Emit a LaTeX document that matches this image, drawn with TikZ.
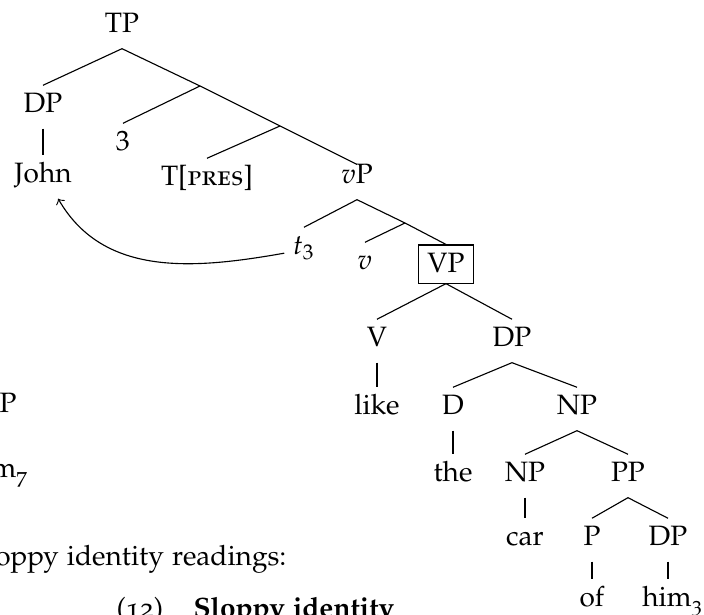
\documentclass[tikz,border=0pt]{standalone}
\usepackage[T1]{fontenc}
\usepackage[sc,osf]{mathpazo}
\usepackage{tikz}
\tikzstyle{lbl} = [anchor=base, inner xsep=0.29em, inner ysep=0.29em, text height=0.68em, text depth=0.25em]
\tikzstyle{boxed} = [lbl, draw, inner xsep=0.32em, inner ysep=0.32em, text depth=0.04em]
\tikzstyle{pagetext} = [inner sep=0pt]

\begin{document}
\begin{tikzpicture}[x=0.357pt,y=-0.357pt]
			\useasboundingbox (0,0) rectangle (704,615);
			\node[lbl] (TP) at (122,33) {TP};
			\node[lbl] (DPa) at (43,113) {DP};
			\node[lbl] (John) at (43,183) {John};
			\node[lbl] (three) at (123,151) {$3$};
			\node[lbl] (Tpres) at (207,186) {T[\textsc{pres}]};
			\node[lbl, text height=0.39em] (vP) at (357,184) {$v$P};
			\node[lbl] (t3) at (304,255) {$t_3$};
			\node[lbl] (v) at (365,270) {$v$};
			\node[boxed] (VP) at (446,273) {VP};
			\node[lbl] (V) at (377,347) {V};
			\node[lbl] (DPb) at (512,347) {DP};
			\node[lbl] (like) at (377,415) {like};
			\node[lbl] (D) at (453,415) {D};
			\node[lbl] (NPa) at (577,415) {NP};
			\node[lbl] (the) at (453,482) {the};
			\node[lbl] (NPb) at (525,482) {NP};
			\node[lbl] (PP) at (628,482) {PP};
			\node[lbl] (car) at (525,546) {car};
			\node[lbl] (P) at (592,546) {P};
			\node[lbl] (DPc) at (668,546) {DP};
			\node[lbl] (of) at (592,607) {of};
			\node[lbl] (him) at (673,607) {him\textsubscript{3}};
			\coordinate (j1) at (200,86);
			\coordinate (j2) at (280,126);
			\coordinate (j3) at (405,223);
			\draw (TP.south) -- (DPa.north);
			\draw (TP.south) -- (j1) -- (j2) -- (vP.north);
			\draw (j1) -- (three.north);
			\draw (j2) -- (Tpres.north);
			\draw (DPa.south) -- (DPa.south |- John.north);
			\draw (vP.south) -- (t3.north);
			\draw (vP.south) -- (j3) -- (VP.north);
			\draw (j3) -- (v.north);
			\draw (VP.south) -- (V.north);
			\draw (VP.south) -- (DPb.north);
			\draw (V.south) -- (V.south |- like.north);
			\draw (DPb.south) -- (D.north);
			\draw (DPb.south) -- (NPa.north);
			\draw (D.south) -- (D.south |- the.north);
			\draw (NPa.south) -- (NPb.north);
			\draw (NPa.south) -- (PP.north);
			\draw (NPb.south) -- (NPb.south |- car.north);
			\draw (PP.south) -- (P.north);
			\draw (PP.south) -- (DPc.north);
			\draw (P.south) -- (P.south |- of.north);
			\draw (DPc.south) -- (DPc.south |- him.north);
			\draw[->] ([yshift=-1.5pt]t3.west) to[out=190,in=-60] ([xshift=5.4pt]John.south);
			\node[pagetext, anchor=base east] (leftDP) at (17,413) {DP};
			\node[pagetext, anchor=base east] (lefthim) at (29,478) {him\textsubscript{7}};
			\node[pagetext, anchor=base east] (readings) at (287,566) {sloppy identity readings:};
			\node[pagetext, anchor=base west] (exnum) at (116,618) {(12)};
			\node[pagetext, anchor=base west] (extitle) at (193,618) {\textbf{Sloppy identity}};
		\end{tikzpicture}
\end{document}
